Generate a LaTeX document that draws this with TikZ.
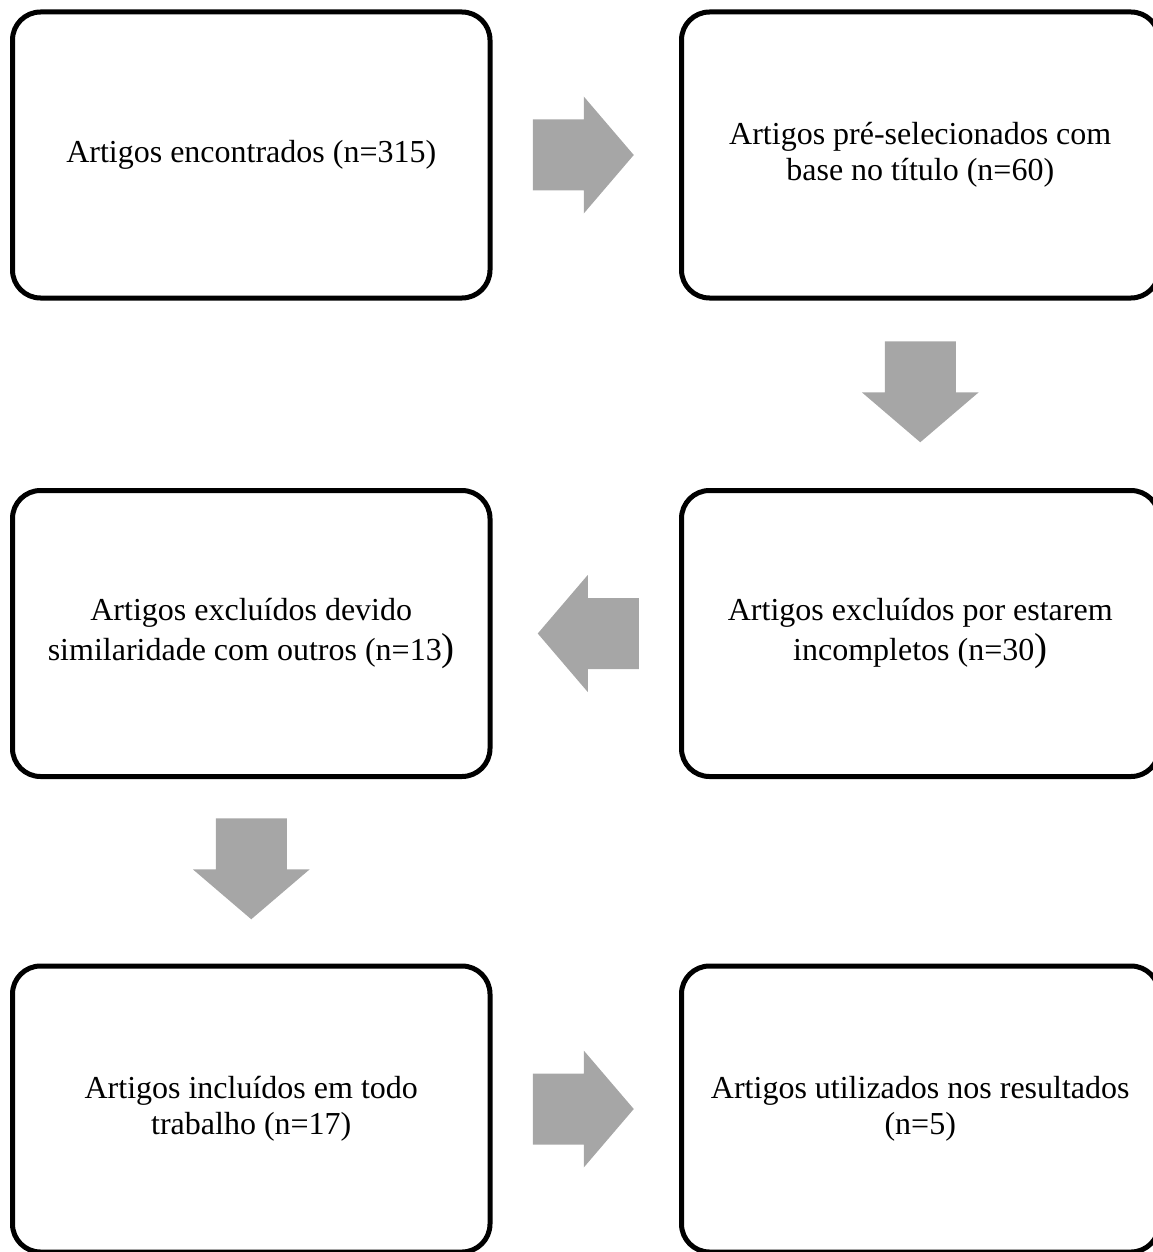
\documentclass[tikz,border=0pt]{standalone}
\usepackage{fontspec}
\setmainfont{Liberation Serif}
\usepackage{tikz}
\usetikzlibrary{
  positioning,%
  calc
}
\definecolor{arrowgray}{HTML}{A6A6A6}
\tikzset{
  stepbox/.style={draw, line width=5pt, rounded corners=28pt, outer sep=0pt,
    minimum width=477.5pt, minimum height=286pt, align=center,
    font=\fontsize{32}{36}\selectfont},
  blockarrow/.style={fill=arrowgray}
}
\newcommand{\bigparen}{{\fontsize{39}{36}\selectfont )}}
% block arrow: #1 centre, #2 direction
\newcommand{\flowarrow}[2]{%
  \fill[blockarrow, shift={#1}, rotate=#2]
    (-53,-35.5) -- (-2,-35.5) -- (-2,-58.5) -- (48,0) -- (-2,58.5) -- (-2,35.5) -- (-53,35.5) -- cycle;}

\begin{document}
\begin{tikzpicture}[x=1pt, y=-1pt]
  \useasboundingbox (0,0) rectangle (1153,1252);
  \node[stepbox] (encontrados) at (251.25,155) {Artigos encontrados (n=315)};
  \node[stepbox, right=191.5pt of encontrados] (preselec) {Artigos pré-selecionados com\\base no título (n=60)};
  \node[stepbox, below=192.5pt of preselec] (incompletos) {Artigos excluídos por estarem\\[4pt]incompletos (n=30\bigparen};
  \node[stepbox, left=191.5pt of incompletos] (similares) {Artigos excluídos devido\\[4pt]similaridade com outros (n=13\bigparen};
  \node[stepbox, below=189.5pt of similares] (incluidos) {Artigos incluídos em todo\\trabalho (n=17)};
  \node[stepbox, right=191.5pt of incluidos] (utilizados) {Artigos utilizados nos resultados\\(n=5)};
  % arrows between the steps
  \flowarrow{($(encontrados.east)!0.5!(preselec.west)$)}{0}
  \flowarrow{($(preselec.south)!0.5!(incompletos.north)$)}{-90}
  \flowarrow{($(incompletos.west)!0.5!(similares.east)$)}{180}
  \flowarrow{($(similares.south)!0.5!(incluidos.north)$)}{-90}
  \flowarrow{($(incluidos.east)!0.5!(utilizados.west)$)}{0}
\end{tikzpicture}
\end{document}
